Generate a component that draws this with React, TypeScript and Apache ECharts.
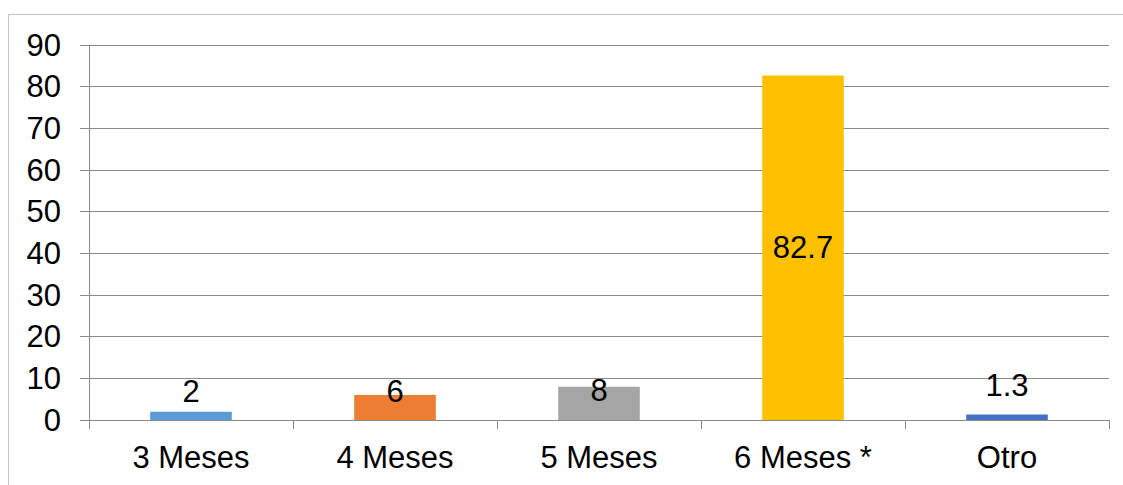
import React, { useEffect, useRef } from "react";
import * as echarts from "echarts";

const categories = ["3 Meses", "4 Meses", "5 Meses", "6 Meses *", "Otro"];
const values = [2, 6, 8, 82.7, 1.3];
const yTicks = { min: 0, max: 90, interval: 10 };

// styles (kept apart from the data)
const barColors = ["#5B9BD5", "#ED7D31", "#A5A5A5", "#FFC000", "#4472C4"];
const labelDy: (number | null)[] = [-20.5, -4, 3.5, null, -29];
const FONT = "'Liberation Sans', Arial, sans-serif";
const GRAY = "#8a8a8a";

export default function App() {
  const ref = useRef<HTMLDivElement>(null);
  useEffect(() => {
    if (!ref.current) return;
    const chart = echarts.init(ref.current, undefined, { renderer: "svg" });
    chart.setOption({
      animation: false,
      backgroundColor: "#ffffff",
      textStyle: { fontFamily: FONT },
      grid: { left: 89, right: 14, top: 45, bottom: 65, containLabel: false },
      graphic: [
        {
          type: "rect",
          silent: true,
          shape: { x: 8.5, y: 14.5, width: 1300, height: 700 },
          style: { fill: "none", stroke: "#c4c4c4", lineWidth: 1 },
        },
      ],
      xAxis: {
        type: "category",
        data: categories,
        axisLine: { lineStyle: { color: GRAY, width: 1 } },
        axisTick: { show: true, length: 9, lineStyle: { color: GRAY } },
        axisLabel: { color: "#000", fontSize: 31, fontFamily: FONT, margin: 22 },
      },
      yAxis: {
        type: "value",
        min: yTicks.min,
        max: yTicks.max,
        interval: yTicks.interval,
        axisLine: { show: true, lineStyle: { color: GRAY, width: 1 } },
        axisTick: { show: true, length: 9, lineStyle: { color: GRAY } },
        axisLabel: { color: "#000", fontSize: 31, fontFamily: FONT, margin: 28 },
        splitLine: { show: true, lineStyle: { color: GRAY, width: 1 } },
      },
      series: [
        {
          type: "bar",
          barWidth: "40%",
          data: values.map((v, i) => ({
            value: v,
            itemStyle: { color: barColors[i] },
            label:
              labelDy[i] === null
                ? { show: true, position: "inside" }
                : {
                    show: true,
                    position: ["50%", labelDy[i]],
                    align: "center",
                    verticalAlign: "middle",
                  },
          })),
          label: {
            show: true,
            color: "#000",
            fontSize: 31,
            fontFamily: FONT,
          },
        },
      ],
    });
    return () => chart.dispose();
  }, []);
  return (
    <div
      ref={ref}
      style={{ position: "fixed", left: 0, top: 0, width: 1123, height: 485 }}
    />
  );
}
